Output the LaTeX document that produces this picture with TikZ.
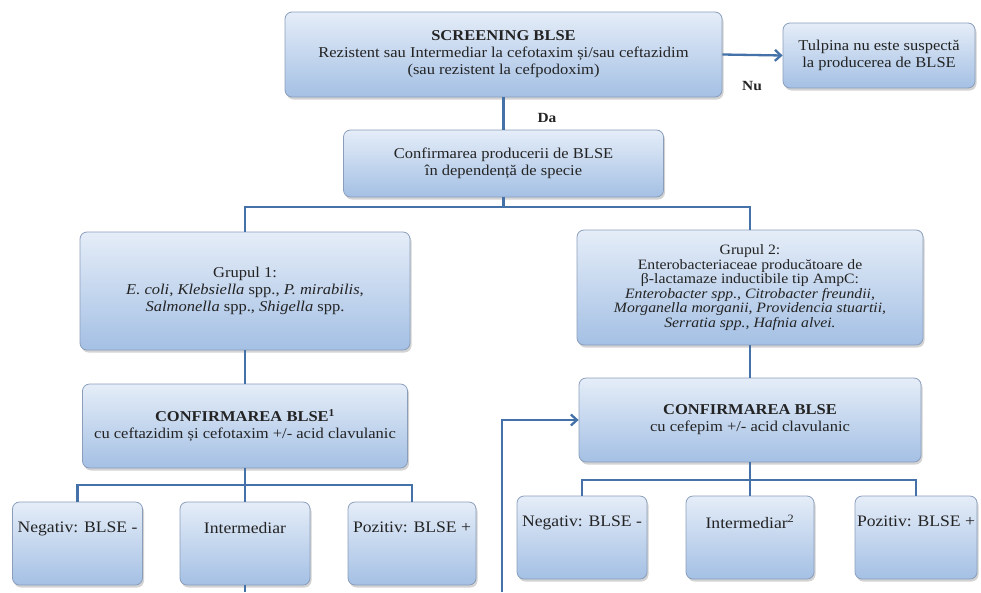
\documentclass[tikz,border=0pt]{standalone}
\usepackage{fontspec}
\setmainfont{Liberation Serif}[FakeStretch=1.1]
\usetikzlibrary{shadows,arrows.meta}
\definecolor{linkblue}{RGB}{68,114,168}
\definecolor{boxtop}{RGB}{229,237,248}
\definecolor{boxbot}{RGB}{164,192,228}
\definecolor{boxedge}{RGB}{138,158,188}
\definecolor{textgray}{RGB}{35,35,35}
\begin{document}
\begin{tikzpicture}[x=1pt,y=-1pt]
                \tikzstyle{every node}+=[inner sep=2pt]
                \tikzstyle{box}=[draw=boxedge, line width=0.8pt, rounded corners=7pt, top color=boxtop, bottom color=boxbot, drop shadow={opacity=0.35, shadow xshift=1.5pt, shadow yshift=-2.5pt}, align=center, text=textgray, font=\fontsize{15}{17}\selectfont]
                \tikzstyle{conn}=[draw=linkblue, line width=2.3pt]
                \tikzstyle{yesno}=[font=\bfseries\fontsize{14}{16}\selectfont, text=textgray]
                \useasboundingbox (0,0) rectangle (981,592);
                % screening
                \node [box, minimum width=437pt, minimum height=85pt] (scr) at (503.5,54.5) {\textbf{SCREENING BLSE}\\ Rezistent sau Intermediar la cefotaxim și/sau ceftazidim\\ (sau rezistent la cefpodoxim)};
                \node [box, minimum width=192pt, minimum height=65pt] (tul) at (879,55.5) {Tulpina nu este suspectă\\ la producerea de BLSE};
                \draw [conn, -{Straight Barb[length=6pt, width=11pt]}] (scr.east) -- (tul.west);
                \node [yesno] (nu) at (752,86) {Nu};
                
                \node [box, minimum width=320pt, minimum height=67pt] (conf) at (503.5,163.5) {Confirmarea producerii de BLSE\\ în dependență de specie};
                \draw [conn] (scr.south) -- (conf.north);
                \node [yesno] (da) at (547,118) {Da};
                
                % the two groups
                \node [box, minimum width=330pt, minimum height=118pt] (g1) at (245,291) {Grupul 1:\\ \textit{E. coli, Klebsiella} spp., \textit{P. mirabilis},\\ \textit{Salmonella} spp., \textit{Shigella} spp.};
                \node [box, minimum width=346pt, minimum height=115pt, font=\fontsize{14.3}{14.5}\selectfont] (g2) at (750,287.5) {Grupul 2:\\ Enterobacteriaceae producătoare de\\ β-lactamaze inductibile tip AmpC:\\ \textit{Enterobacter spp., Citrobacter freundii,}\\ \textit{Morganella morganii, Providencia stuartii,}\\ \textit{Serratia spp., Hafnia alvei.}};
                \coordinate (j1) at (503.5,207);
                \draw [conn] (conf.south) -- (j1);
                \draw [conn] (g1.north) |- (j1) -| (g2.north);
                
                % confirmation tests
                \node [box, minimum width=325pt, minimum height=84pt] (cb1) at (245,426) {\textbf{CONFIRMAREA BLSE\textsuperscript{1}}\\ cu ceftazidim și cefotaxim +/- acid clavulanic};
                \node [box, minimum width=342pt, minimum height=84pt] (cb2) at (750,420) {\textbf{CONFIRMAREA BLSE}\\ cu cefepim +/- acid clavulanic};
                \draw [conn] (g1.south) -- (cb1.north);
                \draw [conn] (g2.south) -- (cb2.north);
                
                % results, group 1
                \tikzstyle{result}=[box, minimum width=130pt, minimum height=83pt, font=\fontsize{16}{18}\selectfont]
                \node [result] (n1) at (77.5,543.5) {Negativ: BLSE -\\[14pt]~};
                \node [result] (i1) at (245,543.5) {Intermediar\\[14pt]~};
                \node [result, minimum width=128pt] (p1) at (412,543.5) {Pozitiv: BLSE +\\[14pt]~};
                \coordinate (b1) at (245,485);
                \draw [conn] (cb1.south) -- (b1);
                \draw [conn] (n1.north) |- (b1) -| (p1.north);
                \draw [conn] (b1) -- (i1.north);
                \coordinate (i1end) at (245,592);
                \draw [conn] (i1.south) -- (i1end);
                
                % results, group 2
                \node [result] (n2) at (582,537.5) {Negativ: BLSE -\\[14pt]~};
                \node [result, minimum width=128pt] (i2) at (750,537.5) {Intermediar\textsuperscript{2}\\[14pt]~};
                \node [result, minimum width=122pt] (p2) at (916,537.5) {Pozitiv: BLSE +\\[14pt]~};
                \coordinate (b2) at (750,480);
                \draw [conn] (cb2.south) -- (b2);
                \draw [conn] (n2.north) |- (b2) -| (p2.north);
                \draw [conn] (b2) -- (i2.north);
                
                % back to the cefepim test
                \coordinate (fb) at (502,592);
                \draw [conn, -{Straight Barb[length=6pt, width=11pt]}] (fb) |- (cb2.west);
\end{tikzpicture}
\end{document}
